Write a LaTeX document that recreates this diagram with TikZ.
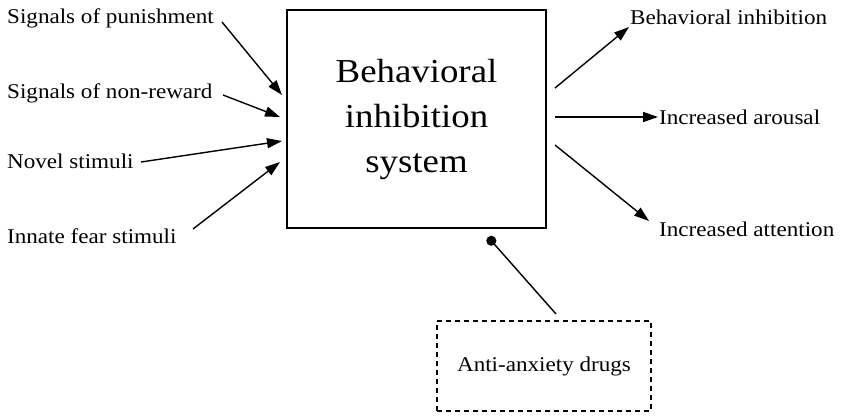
\documentclass[tikz,border=0pt]{standalone}
\usepackage{fontspec}
\setmainfont{Liberation Serif}[FakeStretch=1.1]
\usetikzlibrary{arrows.meta,calc}
\begin{document}
\begin{tikzpicture}[x=1pt,y=-1pt,
  lbl/.style={inner sep=0pt, font=\fontsize{21}{24}\selectfont},
  arr/.style={line width=1.4pt, -{Triangle[length=15pt,width=10pt]}},
  mainbox/.style={draw, line width=1.8pt, minimum width=259pt, minimum height=218pt,
    align=center, font=\fontsize{33.5}{45}\selectfont},
  drugbox/.style={draw, dashed, line width=1.4pt, dash pattern=on 5pt off 4pt,
    minimum width=214pt, minimum height=90pt, font=\fontsize{21}{24}\selectfont}]
\useasboundingbox (0,0) rectangle (845,415);

% central system
\node[mainbox] (bis) at (416.5,119) {Behavioral\\inhibition\\system};

% inputs
\node[lbl, anchor=west] (sp) at (7,18) {Signals of punishment};
\node[lbl, anchor=west] (sn) at (7,93) {Signals of non-reward};
\node[lbl, anchor=west] (ns) at (7,161) {Novel stimuli};
\node[lbl, anchor=west] (if) at (7,236) {Innate fear stimuli};

% outputs
\node[lbl, anchor=west] (bi) at (630,17) {Behavioral inhibition};
\node[lbl, anchor=west] (ia) at (659,117) {Increased arousal};
\node[lbl, anchor=west] (it) at (659,229) {Increased attention};

% modulator
\node[drugbox] (drug) at (544,366) {Anti-anxiety drugs};

% connector end points
\coordinate (sp0) at (222,22);  \coordinate (sp1) at (282,95);
\coordinate (sn0) at (223,95);  \coordinate (sn1) at (280,117);
\coordinate (ns0) at (141,162); \coordinate (ns1) at (282,141);
\coordinate (if0) at (193,229); \coordinate (if1) at (280,162);
\coordinate (bi0) at (555,88);  \coordinate (bi1) at (629,27);
\coordinate (ia0) at (555,117); \coordinate (ia1) at (658,117);
\coordinate (it0) at (555,145); \coordinate (it1) at (649,221);
\coordinate (dr0) at (556,314); \coordinate (dr1) at (488,237);

\draw[arr] (sp0) -- (sp1);
\draw[arr] (sn0) -- (sn1);
\draw[arr] (ns0) -- (ns1);
\draw[arr] (if0) -- (if1);
\draw[arr] (bi0) -- (bi1);
\draw[arr] (ia0) -- (ia1);
\draw[arr] (it0) -- (it1);
\draw[line width=1.4pt, -{Circle[length=10pt]}] (dr0) -- (dr1);
\end{tikzpicture}
\end{document}
